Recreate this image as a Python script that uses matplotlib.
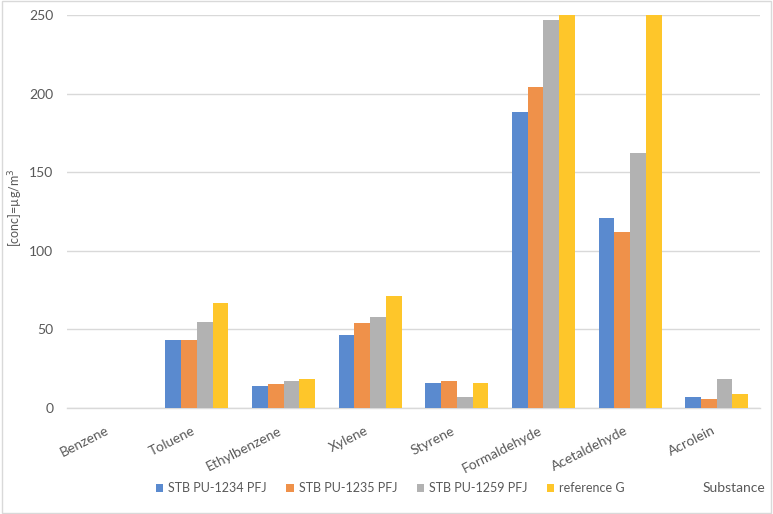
import matplotlib
matplotlib.use('Agg')
import numpy as np
import matplotlib.pyplot as plt
from matplotlib.patches import Rectangle

substances = ['Benzene', 'Toluene', 'Ethylbenzene', 'Xylene', 'Styrene',
              'Formaldehyde', 'Acetaldehyde', 'Acrolein']
series_names = ['STB PU-1234 PFJ', 'STB PU-1235 PFJ', 'STB PU-1259 PFJ', 'reference G']
pu_1234 = [0, 43, 14, 46, 16, 188, 121, 7]
pu_1235 = [0, 43, 15, 54, 17, 204, 112, 5.5]
pu_1259 = [0, 54.5, 17, 57.5, 7, 247, 162, 18]
reference_g = [0, 66.5, 18, 71, 16, 250, 250, 9]
series = [pu_1234, pu_1235, pu_1259, reference_g]
colors = ['#5A8ACF', '#EF914A', '#B2B2B2', '#FEC62A']

plt.rcParams['font.family'] = ['Lato', 'DejaVu Sans']
text_color = '#595959'
grid_color = '#D9D9D9'

fig = plt.figure(figsize=(7.73, 5.14), dpi=100)
ax = fig.add_axes([0.0867, 0.2068, 0.8965, 0.764])

x = np.arange(len(substances))
bw = 0.182
for i, (vals, name, c) in enumerate(zip(series, series_names, colors)):
    ax.bar(x + (i - 1.5) * bw, vals, width=bw, color=c, label=name, zorder=3)

ax.set_xlim(-0.5, len(substances) - 0.5)
ax.set_ylim(0, 250)
ax.set_yticks(np.arange(0, 251, 50))
ax.yaxis.grid(True, color=grid_color, linewidth=1, zorder=0)
for s in ['top', 'right', 'left']:
    ax.spines[s].set_visible(False)
ax.spines['bottom'].set_color(grid_color)
ax.spines['bottom'].set_linewidth(1)
ax.tick_params(axis='both', length=0, colors=text_color, labelsize=10)
ax.tick_params(axis='y', pad=10)
ax.tick_params(axis='x', pad=12)
ax.set_xticks(x)
ax.set_xticklabels(substances, rotation=27, ha='right')

fig.text(16 / 773, 0.595, '[conc]=µg/m$^3$', rotation=90, ha='center', va='center',
         color=text_color, fontsize=9)

fig.legend(loc='center', bbox_to_anchor=(0.505, 0.05), ncol=4, frameon=False,
           handlelength=0.6, handleheight=0.6, handletextpad=0.4, columnspacing=1.55,
           fontsize=9, labelcolor=text_color)
fig.text(0.99, 0.05, 'Substance', ha='right', va='center', color=text_color, fontsize=10)

fig.patches.append(Rectangle((0.002, 0.002), 0.996, 0.996, transform=fig.transFigure,
                             fill=False, edgecolor=grid_color, linewidth=1))

fig.savefig('out.png', dpi=100)
